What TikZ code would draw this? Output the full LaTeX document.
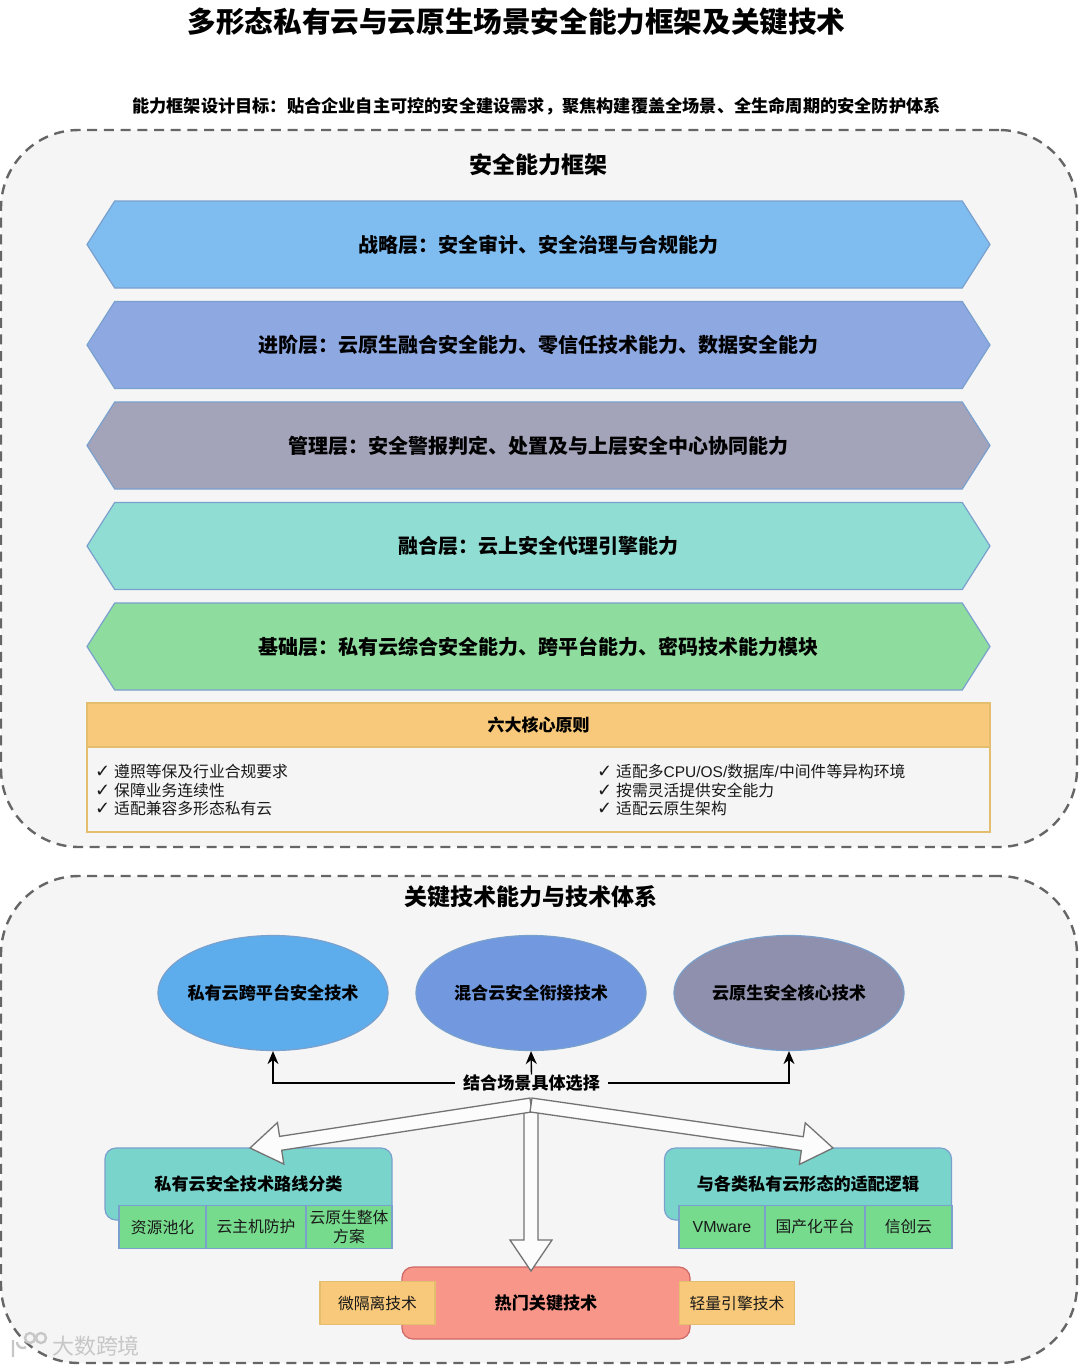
\documentclass[tikz,border=0pt]{standalone}
\usepackage{fontspec}
\setmainfont{Noto Sans CJK SC}
\newfontfamily\latinfont{Liberation Sans}
\newfontfamily\chkfont{DejaVu Sans}
\usetikzlibrary{arrows.meta,calc,shapes.symbols,shapes.geometric}
\definecolor{fpanel}{RGB}{245,245,245}
\definecolor{fdash}{RGB}{102,102,102}
\definecolor{fedge}{RGB}{122,160,205}
\definecolor{fstrat}{RGB}{127,188,240}
\definecolor{fadv}{RGB}{142,168,226}
\definecolor{fmgmt}{RGB}{163,163,186}
\definecolor{fmerge}{RGB}{144,221,211}
\definecolor{fbase}{RGB}{142,221,159}
\definecolor{forange}{RGB}{248,201,122}
\definecolor{forline}{RGB}{226,190,110}
\definecolor{fsky}{RGB}{93,173,236}
\definecolor{froyal}{RGB}{114,153,224}
\definecolor{fslate}{RGB}{142,144,173}
\definecolor{fteal}{RGB}{121,213,204}
\definecolor{fgreen}{RGB}{118,219,141}
\definecolor{fred}{RGB}{248,150,138}
\definecolor{fredline}{RGB}{205,105,100}
\newcommand{\fsz}[1]{\fontsize{#1}{#1}\selectfont}
\newcommand{\chk}{\makebox[19pt][l]{\chkfont\fsz{18}✓}}
\newcommand{\bigarr}[2]{%
  \coordinate (nk) at ($(#2)!31pt!(#1)$);
  \draw[hollow] ($(#1)!7pt!-90:(#2)$) -- ($(nk)!7pt!-90:(#2)$) -- ($(nk)!21pt!-90:(#2)$) -- (#2)
    -- ($(nk)!21pt!90:(#2)$) -- ($(nk)!7pt!90:(#2)$) -- ($(#1)!7pt!90:(#2)$) -- cycle;}
\tikzset{
  panel/.style={draw=fdash, fill=fpanel, line width=2.4pt, dash pattern=on 10pt off 6.7pt,
                rounded corners=78pt, inner sep=0pt, minimum width=1076pt},
  head/.style={font=\fsz{23}\bfseries, inner sep=0pt},
  hexa/.style={signal, signal to=west and east, signal pointer angle=115, draw=fedge, line width=1.2pt,
               minimum width=903pt, minimum height=87pt, inner sep=0pt, font=\fsz{20}\bfseries},
  orbox/.style={draw=forline, fill=forange, line width=1.4pt, inner sep=0pt},
  lst/.style={align=left, anchor=west, inner sep=0pt, font=\fsz{15.8}, text=black!90},
  blob/.style={ellipse, draw=fedge, line width=1.2pt, minimum width=230pt, minimum height=115pt,
               inner sep=-30pt, font=\fsz{17.1}\bfseries},
  arr/.style={-{Stealth[length=13pt,width=11pt]}, line width=1.4pt, draw=black},
  hollow/.style={draw=black!55, fill=white!70!fpanel, line width=1.3pt, line join=miter},
  tealbox/.style={draw=fedge, fill=fteal, line width=1.2pt, rounded corners=11pt, inner sep=0pt,
                  minimum width=287pt, minimum height=72pt, font=\fsz{17.1}\bfseries},
  cell/.style={draw=fedge, fill=fgreen, line width=1.2pt, inner sep=0pt, minimum height=43pt,
               align=center, font=\fsz{15.8}, text=black!90},
  small/.style={orbox, minimum width=115pt, minimum height=43pt, font=\fsz{15.8}, text=black!90},
  wmark/.style={draw=black!22, line width=2.4pt}
}
\begin{document}
\begin{tikzpicture}[x=1pt,y=-1pt]
  \useasboundingbox (0,0) rectangle (1080,1366);
  \node[inner sep=0pt, font=\fsz{28.6}\bfseries] (title) at (516.5,22) {多形态私有云与云原生场景安全能力框架及关键技术};
  \node[inner sep=0pt, font=\fsz{17.2}\bfseries] (goal) at (536.5,106) {能力框架设计目标：贴合企业自主可控的安全建设需求，聚焦构建覆盖全场景、全生命周期的安全防护体系};

  % upper panel
  \node[panel, minimum height=717pt] (upper) at (539,488.5) {};
  \node[head] (uphead) at (538,165) {安全能力框架};
  \node[hexa, fill=fstrat] (strat) at (538.5,244.5) {战略层：安全审计、安全治理与合规能力};
  \node[hexa, fill=fadv]   (adv)   at (538.5,345)   {进阶层：云原生融合安全能力、零信任技术能力、数据安全能力};
  \node[hexa, fill=fmgmt]  (mgmt)  at (538.5,445.5) {管理层：安全警报判定、处置及与上层安全中心协同能力};
  \node[hexa, fill=fmerge] (merge) at (538.5,546)   {融合层：云上安全代理引擎能力};
  \node[hexa, fill=fbase]  (base)  at (538.5,646.5) {基础层：私有云综合安全能力、跨平台能力、密码技术能力模块};

  % six principles
  \node[orbox, fill=fpanel, minimum width=903pt, minimum height=129pt] (rules) at (538.5,767.5) {};
  \node[orbox, minimum width=903pt, minimum height=44pt, font=\fsz{17}\bfseries] (ruleshead) at (538.5,725) {六大核心原则};
  \node[lst] (rulesl) at (95,790) {\chk 遵照等保及行业合规要求\\[2.9pt]\chk 保障业务连续性\\[2.9pt]\chk 适配兼容多形态私有云};
  \node[lst] (rulesr) at (597,790) {\chk 适配多{\latinfont\fsz{15.5}CPU/OS/}数据库{\latinfont /}中间件等异构环境\\[2.9pt]\chk 按需灵活提供安全能力\\[2.9pt]\chk 适配云原生架构};

  % lower panel
  \node[panel, minimum height=487pt] (lower) at (539,1119.5) {};
  \node[head] (lowhead) at (530.5,897) {关键技术能力与技术体系};
  \node[blob, fill=fsky]   (priv)  at (273,993) {私有云跨平台安全技术};
  \node[blob, fill=froyal] (hyb)   at (531,993) {混合云安全衔接技术};
  \node[blob, fill=fslate] (cloud) at (789,993) {云原生安全核心技术};
  \node[inner xsep=8pt, inner ysep=0pt, font=\fsz{17.1}\bfseries] (sel) at (531.5,1083) {结合场景具体选择};

  \draw[arr] (sel.west) -| (priv.south);
  \draw[arr] (sel.north) -- (hyb.south);
  \draw[arr] (sel.east) -| (cloud.south);

  % left group
  \node[tealbox] (route) at (248.5,1184) {私有云安全技术路线分类};
  \node[cell, minimum width=87pt]  (r1) at (162.5,1227) {资源池化};
  \node[cell, minimum width=100pt] (r2) at (256,1227)   {云主机防护};
  \node[cell, minimum width=86pt]  (r3) at (349,1227)   {云原生整体\\[3pt]方案};
  % right group
  \node[tealbox] (fit) at (808,1184) {与各类私有云形态的适配逻辑};
  \node[cell, minimum width=86pt, font=\fsz{16}\latinfont] (f1) at (722,1227) {VMware};
  \node[cell, minimum width=100pt] (f2) at (815,1227)   {国产化平台};
  \node[cell, minimum width=87pt]  (f3) at (908.5,1227) {信创云};
  % hot box
  \node[draw=fredline, fill=fred, line width=1.2pt, rounded corners=11pt, inner sep=0pt, minimum width=288pt,
        minimum height=72pt, font=\fsz{17.1}\bfseries] (hot) at (546,1303) {热门关键技术};
  \node[small] (micro) at (377.5,1303) {微隔离技术};
  \node[small] (light) at (737,1303) {轻量引擎技术};

  % big arrows
  \coordinate (fork) at (531,1105);
  \coordinate (tipl) at (250,1148);
  \coordinate (tipd) at (531,1271);
  \coordinate (tipr) at (833,1148);
  \bigarr{fork}{tipd}
  \bigarr{fork}{tipl}
  \bigarr{fork}{tipr}

  % watermark
  \draw[wmark] (13,1340) -- (13,1357) (17,1342) arc (180:60:6) (30,1338) circle (5) (41,1338) circle (5);
  \node[inner sep=0pt, font=\fsz{22}, text=black!22] (mark) at (96,1346) {大数跨境};
\end{tikzpicture}
\end{document}
